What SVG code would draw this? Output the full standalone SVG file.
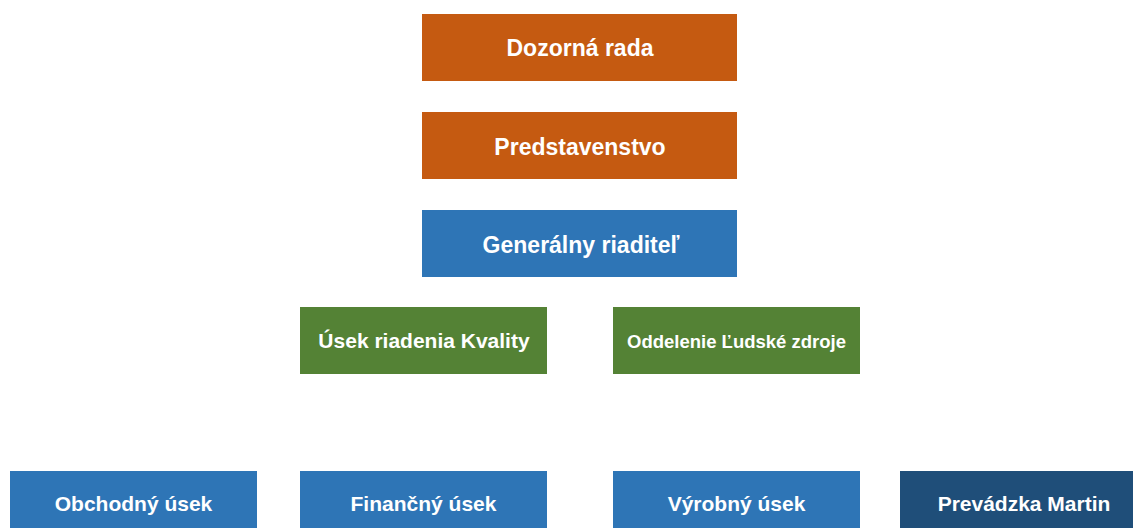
<svg xmlns="http://www.w3.org/2000/svg" width="1133" height="528" viewBox="0 0 1133 528">
<style>
.box{stroke:none}
.orange{fill:#C55A11}
.blue{fill:#2E75B6}
.green{fill:#548235}
.dark{fill:#1F4E79}
text{font-family:"Liberation Sans",Arial,sans-serif;font-weight:bold;fill:#FFFFFF;text-anchor:middle;font-size:23px}
text.mid{font-size:21px}
text.small{font-size:18.5px}
</style>
<rect width="1133" height="528" fill="#FFFFFF"/>
<g id="connectors"></g>
<g id="dozorna-rada"><rect class="box orange" x="422" y="14" width="315" height="67"/><text x="580" y="56">Dozorná rada</text></g>
<g id="predstavenstvo"><rect class="box orange" x="422" y="112" width="315" height="67"/><text x="580" y="155">Predstavenstvo</text></g>
<g id="generalny-riaditel"><rect class="box blue" x="422" y="210" width="315" height="67"/><text x="581" y="253">Generálny riaditeľ</text></g>
<g id="usek-kvality"><rect class="box green" x="300" y="307" width="247" height="67"/><text class="mid" x="424" y="348">Úsek riadenia Kvality</text></g>
<g id="ludske-zdroje"><rect class="box green" x="613" y="307" width="247" height="67"/><text class="small" x="736.5" y="348">Oddelenie Ľudské zdroje</text></g>
<g id="obchodny-usek"><rect class="box blue" x="10" y="471" width="247" height="67"/><text class="mid" x="133.5" y="511">Obchodný úsek</text></g>
<g id="financny-usek"><rect class="box blue" x="300" y="471" width="247" height="67"/><text class="mid" x="423.5" y="511">Finančný úsek</text></g>
<g id="vyrobny-usek"><rect class="box blue" x="613" y="471" width="247" height="67"/><text class="mid" x="736.5" y="511">Výrobný úsek</text></g>
<g id="prevadzka-martin"><rect class="box dark" x="900" y="471" width="247" height="67"/><text class="mid" x="1024" y="511">Prevádzka Martin</text></g>
</svg>
